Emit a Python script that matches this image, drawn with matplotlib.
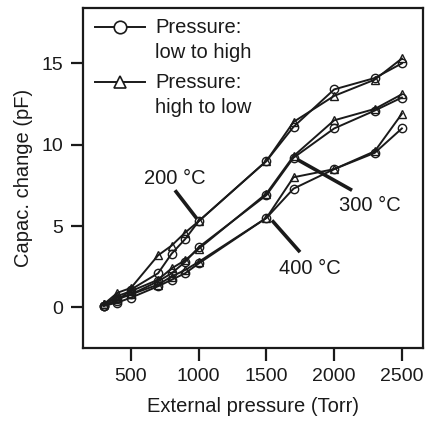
import matplotlib
matplotlib.use("Agg")
import matplotlib.pyplot as plt

plt.rcParams["font.family"] = ["Liberation Sans", "DejaVu Sans"]

# External pressure steps (Torr)
pressure = [300, 400, 500, 700, 800, 900, 1000, 1500, 1700, 2000, 2300, 2500]

# Capacitance change (pF), sweep up (circles) and sweep down (triangles)
c200_up = [0.1, 0.4, 1.1, 2.1, 3.3, 4.2, 5.3, 9.0, 11.1, 13.4, 14.1, 15.0]
c200_down = [0.2, 0.9, 1.2, 3.2, 3.8, 4.6, 5.3, 9.0, 11.4, 13.0, 14.0, 15.3]
c300_up = [0.1, 0.5, 0.8, 1.6, 2.1, 2.8, 3.7, 6.9, 9.2, 11.0, 12.1, 12.9]
c300_down = [0.2, 0.7, 1.0, 1.7, 2.4, 2.9, 3.6, 7.0, 9.3, 11.5, 12.2, 13.1]
c400_up = [0.1, 0.3, 0.6, 1.3, 1.7, 2.1, 2.7, 5.5, 7.3, 8.5, 9.5, 11.0]
c400_down = [0.2, 0.6, 0.8, 1.4, 1.9, 2.3, 2.8, 5.5, 8.0, 8.5, 9.6, 11.9]

xticks = [500, 1000, 1500, 2000, 2500]
yticks = [0, 5, 10, 15]

INK = "#1a1a1a"
FS = 14.5

fig = plt.figure(figsize=(4.25, 4.24), dpi=100)
ax = fig.add_axes([0.195, 0.179, 0.800, 0.802])

mk = dict(color=INK, lw=1.4, ms=6.0, mfc="none", mew=1.0)
for up, down in [(c200_up, c200_down), (c300_up, c300_down), (c400_up, c400_down)]:
    ax.plot(pressure, up, marker="o", **mk)
    ax.plot(pressure, down, marker="^", **mk)

# temperature labels with leader lines
notes = [
    ("200 °C", (825, 7.95), (825, 7.2), (987, 5.45)),
    ("300 °C", (2265, 6.25), (1726, 9.1), (2132, 7.2)),
    ("400 °C", (1822, 2.4), (1541, 5.35), (1748, 3.4)),
]
for label, txy, p0, p1 in notes:
    ax.plot([p0[0], p1[0]], [p0[1], p1[1]], color=INK, lw=2.6, solid_capstyle="butt")
    ax.text(txy[0], txy[1], label, ha="center", va="center", fontsize=FS, color=INK)

# legend drawn in axes coordinates
for y_h, y_t, m, txt in [(0.944, 0.907, "o", "Pressure:\nlow to high"),
                         (0.782, 0.743, "^", "Pressure:\nhigh to low")]:
    ax.plot([0.035, 0.109, 0.182], [y_h] * 3, transform=ax.transAxes, color=INK,
            lw=1.4, marker=m, markevery=[1], ms=9, mfc="white", mew=1.2, clip_on=False)
    ax.text(0.212, y_t, txt, transform=ax.transAxes, ha="left", va="center",
            fontsize=FS, color=INK, linespacing=1.4)

ax.set_xlim(145, 2655)
ax.set_ylim(-2.5, 18.4)
ax.set_xticks(xticks)
ax.set_yticks(yticks)
ax.tick_params(direction="out", length=9, width=1.6, colors=INK, labelsize=FS - 0.5, pad=5)
for s in ax.spines.values():
    s.set_linewidth(1.6)
    s.set_color(INK)

ax.set_xlabel("External pressure (Torr)", fontsize=FS, color=INK, labelpad=9)
ax.set_ylabel("Capac. change (pF)", fontsize=FS, color=INK, labelpad=6)

fig.savefig("out.png", dpi=100)
